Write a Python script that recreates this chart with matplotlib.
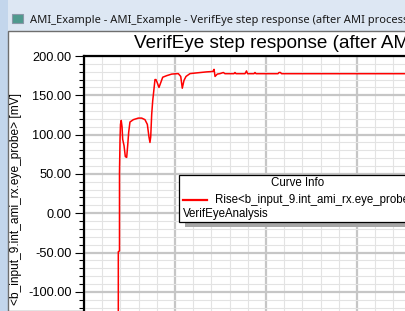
import matplotlib
matplotlib.use("Agg")
import matplotlib.pyplot as plt
from matplotlib.patches import Rectangle
from matplotlib.lines import Line2D
from matplotlib.ticker import MultipleLocator, FormatStrFormatter

plt.rcParams['axes.unicode_minus'] = False
plt.rcParams['font.family'] = ['Liberation Sans', 'DejaVu Sans']

# step response trace (x in ns, y in mV)
t_ns = [0.0, 0.368, 0.377, 0.377, 0.390, 0.390, 0.396, 0.401, 0.409, 0.418,
        0.425, 0.440, 0.454, 0.469, 0.480, 0.491, 0.505, 0.542, 0.597, 0.634,
        0.670, 0.696, 0.714, 0.725, 0.733, 0.744, 0.755, 0.769, 0.780, 0.791,
        0.805, 0.824, 0.843, 0.865, 0.909, 0.964, 1.036, 1.063, 1.080, 1.099,
        1.121, 1.165, 1.238, 1.348, 1.403, 1.418, 1.429, 1.440, 1.465, 1.495,
        1.531, 1.549, 1.648, 1.659, 1.670, 1.769, 1.786, 1.797, 1.868, 1.879,
        1.890, 2.132, 2.143, 2.159, 2.170, 5.0]
v_mv = [-177.5, -177.5, -177.0, -49.0, -48.0, 52.0, 94.0, 113.0, 118.0, 110.0,
        94.0, 86.0, 72.0, 71.0, 86.0, 103.0, 116.0, 119.0, 121.0, 121.0,
        119.0, 113.0, 97.0, 90.0, 97.0, 126.0, 143.0, 158.0, 170.0, 170.0,
        166.0, 160.0, 166.0, 173.0, 175.0, 177.0, 177.6, 174.0, 159.0, 169.0,
        174.0, 177.6, 178.5, 179.8, 180.2, 180.5, 183.0, 174.0, 177.0, 177.6,
        179.0, 177.5, 177.5, 179.0, 177.5, 177.5, 181.0, 177.5, 177.5, 179.0,
        177.5, 177.5, 179.0, 179.0, 177.5, 177.5]

win_title = "AMI_Example - AMI_Example - VerifEye step response (after AMI processing)"
chart_title = "VerifEye step response (after AMI processing)"
y_label = "<b_input_9.int_ami_rx.eye_probe> [mV]"
legend_title = "Curve Info"
legend_entry = "Rise<b_input_9.int_ami_rx.eye_probe>"
legend_sub = "VerifEyeAnalysis"

W, H = 405, 311


def fx(px):
    return px / W


def fy(py):
    return 1 - py / H


fig = plt.figure(figsize=(4.05, 3.11), dpi=100, facecolor='#dde7f3')

# window chrome
fig.add_artist(Rectangle((0, 0), fx(8), 1, transform=fig.transFigure,
                         facecolor='#c3d6ec', edgecolor='none', zorder=-20))
fig.add_artist(Rectangle((fx(8), 0), 1, fy(31), transform=fig.transFigure,
                         facecolor='white', edgecolor='#6e6e6e', lw=1, zorder=-10))
fig.add_artist(Rectangle((fx(12), fy(23)), fx(11), 9 / H, transform=fig.transFigure,
                         facecolor='#4f9a8e', edgecolor='#8a98a8', lw=0.8, zorder=-5))
fig.text(fx(30), fy(23.5), win_title, fontsize=8.0, family=['Noto Sans', 'DejaVu Sans'],
         ha='left', va='baseline', color='#1a1a1a')

# plot area (extends past the visible window)
ax_left, ax_top = 84, 56
px_per_mv = 0.786
px_per_ns = 91
y0, y1 = -200, 200
x0, x1 = 0, 5
h = (y1 - y0) * px_per_mv
w = (x1 - x0) * px_per_ns
ax = fig.add_axes([fx(ax_left), fy(ax_top + h), w / W, h / H])
ax.set_xlim(x0, x1)
ax.set_ylim(y0, y1)

ax.yaxis.set_major_locator(MultipleLocator(50))
ax.yaxis.set_minor_locator(MultipleLocator(10))
ax.yaxis.set_major_formatter(FormatStrFormatter('%.2f'))
ax.xaxis.set_major_locator(MultipleLocator(1))
ax.xaxis.set_minor_locator(MultipleLocator(0.2))
ax.grid(which='minor', color='#e3e3e3', lw=0.8)
ax.grid(which='major', color='#c6c6c6', lw=1.6)
ax.set_axisbelow(True)
ax.tick_params(axis='y', which='major', direction='out', length=6.5, width=0.8,
               labelsize=9.2, pad=2.5)
ax.tick_params(axis='y', which='minor', direction='out', length=3.6, width=0.8)
ax.tick_params(axis='x', which='both', bottom=False, labelbottom=False)
for s in ['left', 'top']:
    ax.spines[s].set_linewidth(1.6)
    ax.spines[s].set_color('black')

ax.plot(t_ns, v_mv, color='#ff0000', lw=1.1)

fig.text(fx(134), fy(48.5), chart_title, fontsize=13.6, ha='left', va='baseline')
fig.text(fx(16), fy(93), y_label, fontsize=8.6, rotation=90, ha='center', va='top')

# curve info box
fig.add_artist(Rectangle((fx(185), fy(227)), fx(240), (227 - 178) / H,
                         transform=fig.transFigure, facecolor='#a6a6a6',
                         edgecolor='none', zorder=5))
fig.add_artist(Rectangle((fx(178.5), fy(222)), fx(240), (222 - 174.5) / H,
                         transform=fig.transFigure, facecolor='white',
                         edgecolor='black', lw=0.9, zorder=6))
fig.add_artist(Line2D([fx(183), fx(207)], [fy(200), fy(200)], transform=fig.transFigure,
                      color='#ff0000', lw=1.6, zorder=7))
fig.text(fx(298), fy(183.5), legend_title, fontsize=8.3, ha='center', va='center', zorder=7)
fig.text(fx(215), fy(200), legend_entry, fontsize=8.3, ha='left', va='center', zorder=7)
fig.text(fx(183), fy(213.5), legend_sub, fontsize=8.3, ha='left', va='center', zorder=7)

fig.savefig('out.png', dpi=100, facecolor=fig.get_facecolor())
